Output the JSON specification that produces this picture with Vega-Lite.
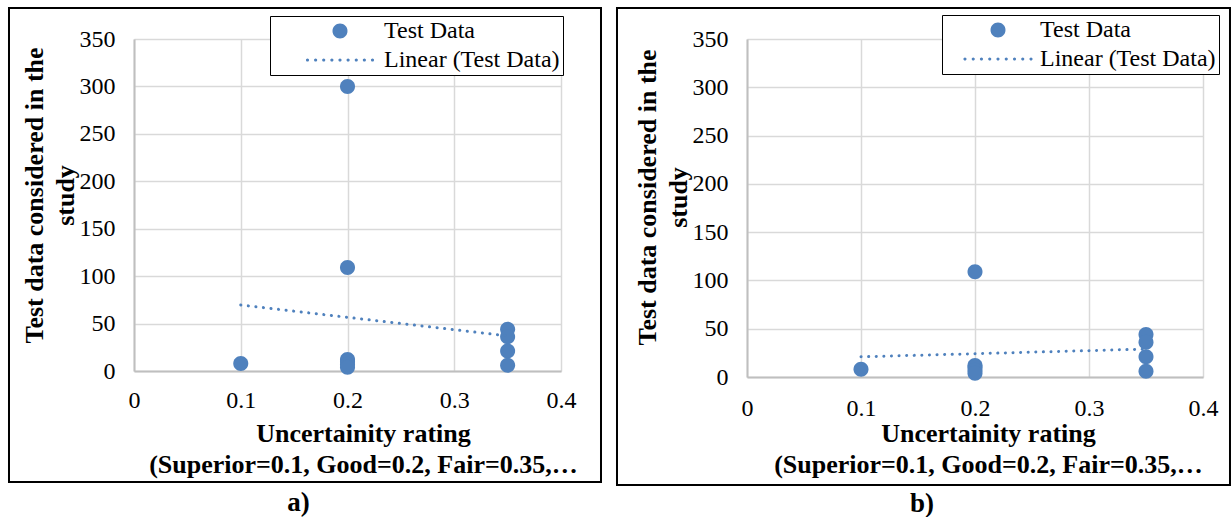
{
  "$schema": "https://vega.github.io/schema/vega-lite/v6.json",
  "background": "white",
  "padding": {"left": 7, "top": 7, "right": 0, "bottom": 0},
  "spacing": 13,
  "resolve": {"scale": {"shape": "independent"}, "legend": {"shape": "independent"}},
  "config": {
    "font": "Liberation Serif",
    "view": {"stroke": null},
    "axis": {
      "labelFont": "Liberation Serif", "labelFontSize": 24, "labelColor": "#000000",
      "titleFont": "Liberation Serif", "titleFontSize": 26, "titleFontWeight": "bold", "titleColor": "#000000",
      "titleLineHeight": 31,
      "domainColor": "#bfbfbf", "domainWidth": 2,
      "grid": true, "gridColor": "#d9d9d9", "gridWidth": 1.5,
      "ticks": false, "labelFlush": false, "labelOverlap": false
    }
  },
  "hconcat": [
    {
      "width": 427, "height": 332,
      "title": {"text": "a)", "orient": "bottom", "anchor": "middle", "dx": -49, "offset": 7, "font": "Liberation Serif", "fontSize": 27, "fontWeight": "bold", "color": "#000000"},
      "data": {"values": [
        {"x": 0.1, "y": 8},
        {"x": 0.2, "y": 300},
        {"x": 0.2, "y": 109},
        {"x": 0.2, "y": 12},
        {"x": 0.2, "y": 10},
        {"x": 0.2, "y": 7},
        {"x": 0.2, "y": 4},
        {"x": 0.35, "y": 44},
        {"x": 0.35, "y": 36},
        {"x": 0.35, "y": 21},
        {"x": 0.35, "y": 6}
      ]},
      "layer": [
        {
          "data": {"values": [{}]},
          "mark": {"type": "rect", "filled": false, "stroke": "#000000", "strokeWidth": 2, "clip": false},
          "encoding": {
            "x": {"datum": -0.1171, "type": "quantitative"},
            "x2": {"datum": 0.43747},
            "y": {"datum": 382.68, "type": "quantitative"},
            "y2": {"datum": -117.02}
          }
        },
        {
          "mark": {"type": "point", "filled": true, "opacity": 1, "size": 17956, "color": "#4f81bd", "strokeWidth": 0},
          "encoding": {
            "x": {"field": "x", "type": "quantitative",
              "scale": {"domain": [0, 0.4], "nice": false, "zero": false},
              "axis": {"values": [0, 0.1, 0.2, 0.3, 0.4], "format": "~g", "labelPadding": 17, "grid": true,
                "title": ["Uncertainity rating", "(Superior=0.1, Good=0.2, Fair=0.35,…"], "titleX": 229, "titlePadding": 8}},
            "y": {"field": "y", "type": "quantitative",
              "scale": {"domain": [0, 350], "nice": false},
              "axis": {"values": [0, 50, 100, 150, 200, 250, 300, 350], "labelPadding": 19, "grid": true,
                "title": ["Test data considered in the", "study"], "titleY": 156, "titlePadding": 1}},
            "shape": {"datum": "Test Data",
              "scale": {"domain": ["Test Data", "Linear (Test Data)"],
                "range": [
                  "M-0.112,0A0.112,0.112 0 1 0 0.112,0A0.112,0.112 0 1 0 -0.112,0Z",
                  "M-0.509,0A0.024,0.024 0 1 0 -0.461,0A0.024,0.024 0 1 0 -0.509,0ZM-0.388,0A0.024,0.024 0 1 0 -0.340,0A0.024,0.024 0 1 0 -0.388,0ZM-0.267,0A0.024,0.024 0 1 0 -0.219,0A0.024,0.024 0 1 0 -0.267,0ZM-0.145,0A0.024,0.024 0 1 0 -0.097,0A0.024,0.024 0 1 0 -0.145,0ZM-0.024,0A0.024,0.024 0 1 0 0.024,0A0.024,0.024 0 1 0 -0.024,0ZM0.097,0A0.024,0.024 0 1 0 0.145,0A0.024,0.024 0 1 0 0.097,0ZM0.219,0A0.024,0.024 0 1 0 0.267,0A0.024,0.024 0 1 0 0.219,0ZM0.340,0A0.024,0.024 0 1 0 0.388,0A0.024,0.024 0 1 0 0.340,0ZM0.461,0A0.024,0.024 0 1 0 0.509,0A0.024,0.024 0 1 0 0.461,0Z"
                ]},
              "legend": {
                "orient": "none", "legendX": 136, "legendY": -23, "title": null,
                "symbolSize": 17956, "symbolFillColor": "#4f81bd", "symbolStrokeWidth": 0,
                "labelFont": "Liberation Serif", "labelFontSize": 24, "labelColor": "#000000", "labelLimit": 0,
                "labelOffset": -23, "clipHeight": 24, "rowPadding": 5, "padding": 3,
                "strokeColor": "#000000", "fillColor": "#ffffff",
                "labelExpr": "datum.label + '\u00a0\u00a0\u00a0\u00a0'"
              }
            }
          }
        },
        {
          "transform": [{"regression": "y", "on": "x"}],
          "mark": {"type": "line", "color": "#4f81bd", "strokeWidth": 3, "strokeDash": [0.1, 7.5], "strokeCap": "round"},
          "encoding": {
            "x": {"field": "x", "type": "quantitative"},
            "y": {"field": "y", "type": "quantitative"}
          }
        }
      ]
    },
    {
      "width": 456, "height": 338,
      "title": {"text": "b)", "orient": "bottom", "anchor": "middle", "dx": -53, "offset": 5, "font": "Liberation Serif", "fontSize": 27, "fontWeight": "bold", "color": "#000000"},
      "data": {"values": [
        {"x": 0.1, "y": 8},
        {"x": 0.2, "y": 109},
        {"x": 0.2, "y": 12},
        {"x": 0.2, "y": 10},
        {"x": 0.2, "y": 7},
        {"x": 0.2, "y": 4},
        {"x": 0.35, "y": 44},
        {"x": 0.35, "y": 36},
        {"x": 0.35, "y": 21},
        {"x": 0.35, "y": 6}
      ]},
      "layer": [
        {
          "data": {"values": [{}]},
          "mark": {"type": "rect", "filled": false, "stroke": "#000000", "strokeWidth": 2, "clip": false},
          "encoding": {
            "x": {"datum": -0.11404, "type": "quantitative"},
            "x2": {"datum": 0.42368},
            "y": {"datum": 382.1, "type": "quantitative"},
            "y2": {"datum": -111.83}
          }
        },
        {
          "mark": {"type": "point", "filled": true, "opacity": 1, "size": 11236, "color": "#4f81bd", "strokeWidth": 0},
          "encoding": {
            "x": {"field": "x", "type": "quantitative",
              "scale": {"domain": [0, 0.4], "nice": false, "zero": false},
              "axis": {"values": [0, 0.1, 0.2, 0.3, 0.4], "format": "~g", "labelPadding": 19, "grid": true,
                "title": ["Uncertainity rating", "(Superior=0.1, Good=0.2, Fair=0.35,…"], "titleX": 241, "titlePadding": 0}},
            "y": {"field": "y", "type": "quantitative",
              "scale": {"domain": [0, 350], "nice": false},
              "axis": {"values": [0, 50, 100, 150, 200, 250, 300, 350], "labelPadding": 19, "grid": true,
                "title": ["Test data considered in the", "study"], "titleY": 158, "titlePadding": 1}},
            "shape": {"datum": "Test Data",
              "scale": {"domain": ["Test Data", "Linear (Test Data)"],
                "range": [
                  "M-0.1415,0A0.1415,0.1415 0 1 0 0.1415,0A0.1415,0.1415 0 1 0 -0.1415,0Z",
                  "M-0.653,0A0.03,0.03 0 1 0 -0.593,0A0.03,0.03 0 1 0 -0.653,0ZM-0.497,0A0.03,0.03 0 1 0 -0.437,0A0.03,0.03 0 1 0 -0.497,0ZM-0.342,0A0.03,0.03 0 1 0 -0.282,0A0.03,0.03 0 1 0 -0.342,0ZM-0.186,0A0.03,0.03 0 1 0 -0.126,0A0.03,0.03 0 1 0 -0.186,0ZM-0.03,0A0.03,0.03 0 1 0 0.03,0A0.03,0.03 0 1 0 -0.03,0ZM0.126,0A0.03,0.03 0 1 0 0.186,0A0.03,0.03 0 1 0 0.126,0ZM0.282,0A0.03,0.03 0 1 0 0.342,0A0.03,0.03 0 1 0 0.282,0ZM0.437,0A0.03,0.03 0 1 0 0.497,0A0.03,0.03 0 1 0 0.437,0ZM0.593,0A0.03,0.03 0 1 0 0.653,0A0.03,0.03 0 1 0 0.593,0Z"
                ]},
              "legend": {
                "orient": "none", "legendX": 195, "legendY": -24, "title": null,
                "symbolSize": 11236, "symbolFillColor": "#4f81bd", "symbolStrokeWidth": 0,
                "labelFont": "Liberation Serif", "labelFontSize": 24, "labelColor": "#000000", "labelLimit": 0,
                "labelOffset": -11, "clipHeight": 24, "rowPadding": 5, "padding": 3,
                "strokeColor": "#000000", "fillColor": "#ffffff",
                "labelExpr": "datum.label + '\u00a0'"
              }
            }
          }
        },
        {
          "transform": [{"regression": "y", "on": "x"}],
          "mark": {"type": "line", "color": "#4f81bd", "strokeWidth": 3, "strokeDash": [0.1, 7.5], "strokeCap": "round"},
          "encoding": {
            "x": {"field": "x", "type": "quantitative"},
            "y": {"field": "y", "type": "quantitative"}
          }
        }
      ]
    }
  ]
}
